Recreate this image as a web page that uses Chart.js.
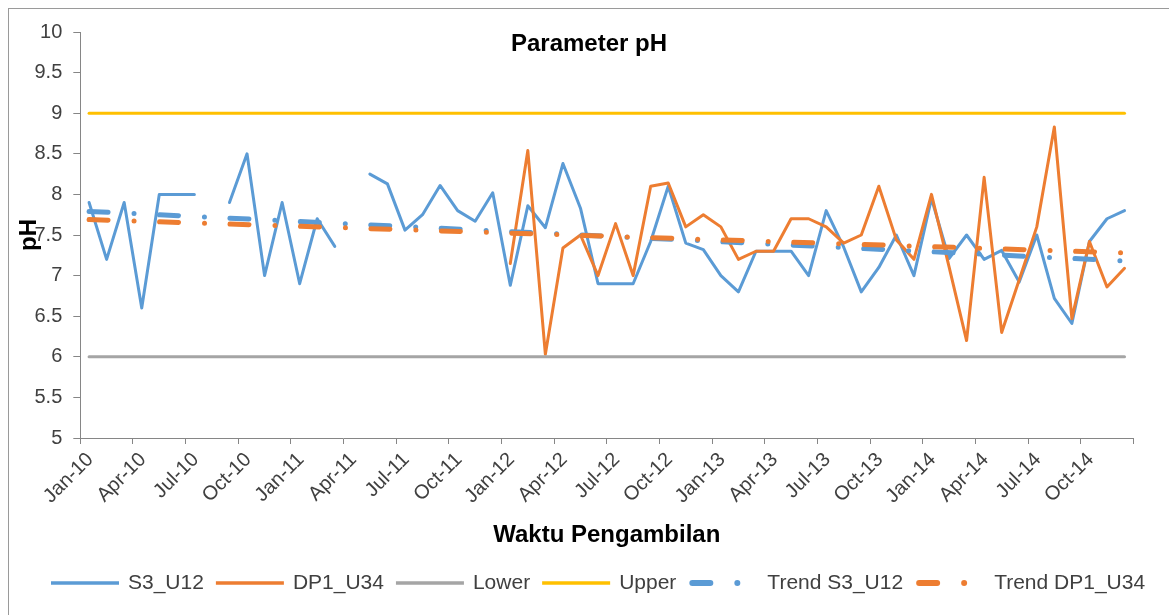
<!DOCTYPE html>
<html>
<head>
<meta charset="utf-8">
<title>Parameter pH</title>
<script src="https://cdn.jsdelivr.net/npm/chart.js@4.4.1/dist/chart.umd.min.js"></script>
<style>
    html, body { margin: 0; padding: 0; background: #fff; overflow: hidden; }
    #frame { position: absolute; left: 8px; top: 8px; width: 1300px; height: 800px; border: 1px solid #9a9a9a; }
    #chart { position: absolute; left: 0; top: 0; }
</style>
</head>
<body>
<div id="frame"></div>
<canvas id="chart" width="1169" height="615"></canvas>
<script>
// --- DATA ---

// tick labels (one every 3 months, Jan-10 .. Oct-14)
const quarterLabels = [
    'Jan-10', 'Apr-10', 'Jul-10', 'Oct-10',
    'Jan-11', 'Apr-11', 'Jul-11', 'Oct-11',
    'Jan-12', 'Apr-12', 'Jul-12', 'Oct-12',
    'Jan-13', 'Apr-13', 'Jul-13', 'Oct-13',
    'Jan-14', 'Apr-14', 'Jul-14', 'Oct-14'
];

// monthly pH, Jan-10 .. Dec-14 (null = no sample)
const s3U12 = [
    7.9, 7.2, 7.9, 6.6, 8.0, 8.0, 8.0, null, 7.9, 8.5, 7.0, 7.9,
    6.9, 7.7, 7.36, null, 8.25, 8.13, 7.56, 7.75, 8.11, 7.8, 7.67, 8.02,
    6.88, 7.86, 7.59, 8.38, 7.83, 6.9, 6.9, 6.9, 7.42, 8.1, 7.4, 7.32,
    7.0, 6.8, 7.3, 7.3, 7.3, 7.0, 7.8, 7.35, 6.8, 7.1, 7.5, 7.0,
    7.95, 7.21, 7.5, 7.2, 7.31, 6.92, 7.5, 6.72, 6.41, 7.42, 7.7, 7.8
];
const dp1U34 = [
    null, null, null, null, null, null, null, null, null, null, null, null,
    null, null, null, null, null, null, null, null, null, null, null, null,
    7.15, 8.54, 6.03, 7.34, 7.5, 7.0, 7.64, 7.0, 8.1, 8.14, 7.6, 7.75,
    7.6, 7.2, 7.3, 7.3, 7.7, 7.7, 7.6, 7.4, 7.5, 8.1, 7.44, 7.2,
    8.0, 7.11, 6.2, 8.21, 6.3, 6.95, 7.6, 8.83, 6.47, 7.42, 6.86, 7.09
];

// baku mutu (start / end of the period)
const lowerValues = [6, 6];
const upperValues = [9, 9];

// linear trend lines, value at first and last month
const trendS3U12 = [7.79, 7.18];
const trendDP1U34 = [7.69, 7.28];

// --- HELPERS ---

const MONTHS = s3U12.length;
const monthly = (values) => values.map((v, i) => ({ x: i + 0.5, y: v }));
const endpoints = (values) => [{ x: 0.5, y: values[0] }, { x: MONTHS - 0.5, y: values[1] }];

const BLUE = '#5B9BD5';
const ORANGE = '#ED7D31';
const GRAY = '#A5A5A5';
const YELLOW = '#FFC000';
const AXIS = '#868686';
const TEXT = '#404040';
const FONT = '"Liberation Sans", Arial, sans-serif';

const lineDs = (label, data, color, order) => ({
    label, data, order,
    borderColor: color, backgroundColor: color,
    borderWidth: 3, borderJoinStyle: 'round', borderCapStyle: 'round',
    pointRadius: 0, tension: 0, spanGaps: false
});
const trendDs = (label, data, color, order) => ({
    label, data, order, trend: true,
    borderColor: color, backgroundColor: color,
    borderWidth: 5, borderCapStyle: 'round',
    borderDash: [19, 26, 0, 25.5],
    pointRadius: 0, tension: 0
});

// judul dan legenda digambar manual (gaya Excel)
const excelDecor = {
    id: 'excelDecor',
    afterDraw(chart) {
        const ctx = chart.ctx;
        ctx.save();
        ctx.fillStyle = '#000';
        ctx.font = 'bold 24px ' + FONT;
        ctx.textAlign = 'center';
        ctx.textBaseline = 'middle';
        ctx.fillText('Parameter pH', 589, 44);

        ctx.font = '21px ' + FONT;
        ctx.textAlign = 'left';
        const y = 583;
        let x = 51;
        chart.data.datasets.forEach(ds => {
            ctx.strokeStyle = ds.borderColor;
            ctx.fillStyle = ds.borderColor;
            if (ds.trend) {
                ctx.lineWidth = 6;
                ctx.lineCap = 'round';
                ctx.beginPath();
                ctx.moveTo(x + 4, y);
                ctx.lineTo(x + 22, y);
                ctx.stroke();
                ctx.beginPath();
                ctx.arc(x + 49, y, 3, 0, Math.PI * 2);
                ctx.fill();
                x += 79;
            } else {
                ctx.lineWidth = 3.5;
                ctx.lineCap = 'butt';
                ctx.beginPath();
                ctx.moveTo(x, y);
                ctx.lineTo(x + 68, y);
                ctx.stroke();
                x += 77;
            }
            ctx.fillStyle = TEXT;
            ctx.fillText(ds.label, x, y);
            x += ctx.measureText(ds.label).width + 12;
        });
        ctx.restore();
    }
};

new Chart(document.getElementById('chart'), {
    type: 'line',
    data: {
        datasets: [
            lineDs('S3_U12', monthly(s3U12), BLUE, 6),
            lineDs('DP1_U34', monthly(dp1U34), ORANGE, 5),
            lineDs('Lower', endpoints(lowerValues), GRAY, 4),
            lineDs('Upper', endpoints(upperValues), YELLOW, 3),
            trendDs('Trend S3_U12', endpoints(trendS3U12), BLUE, 2),
            trendDs('Trend DP1_U34', endpoints(trendDP1U34), ORANGE, 1)
        ]
    },
    options: {
        responsive: false,
        animation: false,
        devicePixelRatio: 1,
        layout: { padding: { left: 0, top: 32, right: 35.7, bottom: 0 } },
        plugins: {
            legend: { display: false },
            tooltip: { enabled: false }
        },
        scales: {
            x: {
                type: 'linear',
                min: 0,
                max: MONTHS,
                afterFit: (scale) => { scale.height = 177; },
                grid: { drawOnChartArea: false, tickLength: 6, color: AXIS },
                border: { display: true, color: AXIS },
                ticks: {
                    stepSize: 3,
                    autoSkip: false,
                    minRotation: 45,
                    maxRotation: 45,
                    padding: 4,
                    labelOffset: 10,
                    color: TEXT,
                    font: { family: FONT, size: 20 },
                    callback: (v) => quarterLabels[v / 3] || ''
                },
                title: {
                    display: true,
                    text: 'Waktu Pengambilan',
                    color: '#000',
                    font: { family: FONT, size: 24, weight: 'bold' },
                    padding: { top: 0, bottom: 65 }
                }
            },
            y: {
                min: 5,
                max: 10,
                afterFit: (scale) => { scale.width = 80.3; },
                grid: { drawOnChartArea: false, tickLength: 7, color: AXIS },
                border: { display: true, color: AXIS },
                ticks: {
                    stepSize: 0.5,
                    padding: 11,
                    color: TEXT,
                    font: { family: FONT, size: 20 },
                    callback: (v) => String(v)
                },
                title: {
                    display: true,
                    text: 'pH',
                    color: '#000',
                    font: { family: FONT, size: 24, weight: 'bold' },
                    padding: { top: 15, bottom: 0 }
                }
            }
        }
    },
    plugins: [excelDecor]
});
</script>
</body>
</html>
